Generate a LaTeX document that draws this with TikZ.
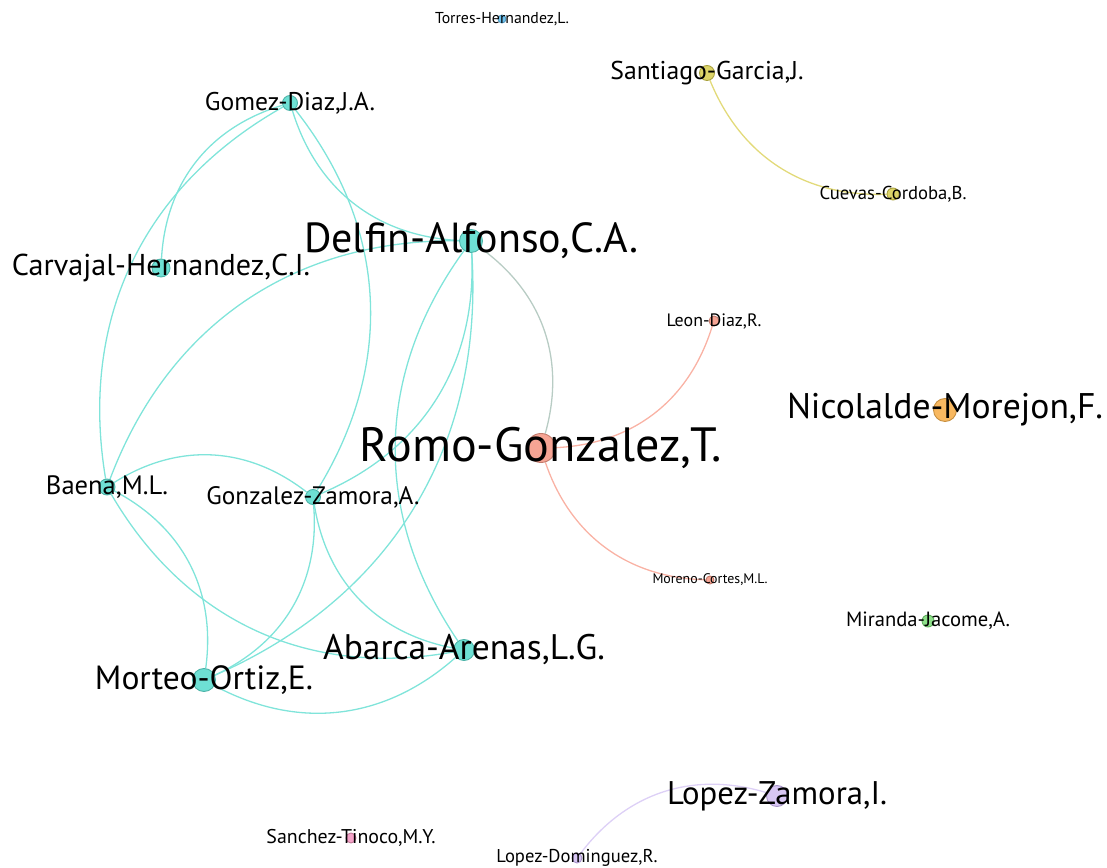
\documentclass[tikz,border=0pt]{standalone}
\usepackage{fontspec}
\setmainfont{PT Sans}
\usetikzlibrary{backgrounds}

\definecolor{tealN}{HTML}{6EE0D4}
\definecolor{tealD}{HTML}{4DB3A8}
\definecolor{tealE}{HTML}{80E4DA}
\definecolor{salN}{HTML}{F6A494}
\definecolor{salD}{HTML}{C27A6C}
\definecolor{salE}{HTML}{F9B2A4}
\definecolor{yelN}{HTML}{DCD468}
\definecolor{yelD}{HTML}{A9A13E}
\definecolor{yelE}{HTML}{E2DA7A}
\definecolor{lavN}{HTML}{D8C6F4}
\definecolor{lavD}{HTML}{A895C8}
\definecolor{lavE}{HTML}{DDD0F6}
\definecolor{oraN}{HTML}{F8B860}
\definecolor{oraD}{HTML}{C68F40}
\definecolor{grnN}{HTML}{8EE08A}
\definecolor{grnD}{HTML}{62B060}
\definecolor{pnkN}{HTML}{F4A2C8}
\definecolor{pnkD}{HTML}{C27898}
\definecolor{bluN}{HTML}{72C4F0}
\definecolor{bluD}{HTML}{4C98C2}
\definecolor{mixE}{HTML}{B8CCC4}

% label scaled to the width it has in the map
\newcommand{\nm}[2]{\resizebox{#1pt}{!}{#2}}

\begin{document}
\begin{tikzpicture}[x=1pt,y=1pt,bend angle=35]
  \tikzstyle{auth} = [circle, inner sep=0pt, line width=0.9pt]
  \tikzstyle{tm} = [auth, fill=tealN, draw=tealD]
  \tikzstyle{edge} = [line width=1.3pt]
  \useasboundingbox (0,0) rectangle (1107,867);

  % authors
  \node[auth, fill=bluN, draw=bluD, minimum size=8, label={center:\nm{134}{Torres-Hernandez,L.}}] (torres) at (502,848) {};
  \node[auth, fill=yelN, draw=yelD, minimum size=15, label={center:\nm{193}{Santiago-Garcia,J.}}] (santiago) at (707,794) {};
  \node[auth, fill=yelN, draw=yelD, minimum size=12, label={center:\nm{147}{Cuevas-Cordoba,B.}}] (cuevas) at (893,673) {};
  \node[tm, minimum size=15, label={center:\nm{170}{Gomez-Diaz,J.A.}}] (gomez) at (290,764) {};
  \node[tm, minimum size=23, label={center:\nm{334}{Delfin-Alfonso,C.A.}}] (delfin) at (471,626) {};
  \node[tm, minimum size=18, label={center:\nm{298}{Carvajal-Hernandez,C.I.}}] (carvajal) at (161,599) {};
  \node[auth, fill=salN, draw=salD, minimum size=10, label={center:\nm{95}{Leon-Diaz,R.}}] (leon) at (714,546) {};
  \node[auth, fill=oraN, draw=oraD, minimum size=23, label={center:\nm{316}{Nicolalde-Morejon,F.}}] (nicolalde) at (945,457) {};
  \node[auth, fill=salN, draw=salD, minimum size=29, label={center:\nm{362}{Romo-Gonzalez,T.}}] (romo) at (541,419) {};
  \node[tm, minimum size=16, label={center:\nm{122}{Baena,M.L.}}] (baena) at (107,380) {};
  \node[tm, minimum size=15, label={center:\nm{213}{Gonzalez-Zamora,A.}}] (gzamora) at (313,370) {};
  \node[auth, fill=salN, draw=salD, minimum size=8, label={center:\nm{115}{Moreno-Cortes,M.L.}}] (moreno) at (710,287) {};
  \node[auth, fill=grnN, draw=grnD, minimum size=12, label={center:\nm{164}{Miranda-Jacome,A.}}] (miranda) at (928,246) {};
  \node[tm, minimum size=21, label={center:\nm{282}{Abarca-Arenas,L.G.}}] (abarca) at (464,217) {};
  \node[tm, minimum size=23, label={center:\nm{218}{Morteo-Ortiz,E.}}] (morteo) at (204,187) {};
  \node[auth, fill=lavN, draw=lavD, minimum size=21, label={center:\nm{220}{Lopez-Zamora,I.}}] (lzamora) at (777,71) {};
  \node[auth, fill=pnkN, draw=pnkD, minimum size=10, label={center:\nm{169}{Sanchez-Tinoco,M.Y.}}] (sanchez) at (351,29) {};
  \node[auth, fill=lavN, draw=lavD, minimum size=10, label={center:\nm{161}{Lopez-Dominguez,R.}}] (ldominguez) at (577,9) {};

  % co-authorship links
  \begin{pgfonlayer}{background}
    \draw[edge, tealE] (gomez) to[bend right] (carvajal);
    \draw[edge, tealE] (gomez) to[bend right] (baena);
    \draw[edge, tealE] (gomez) to[bend right] (delfin);
    \draw[edge, tealE] (gomez) to[bend left] (gzamora);
    \draw[edge, tealE] (baena) to[bend left] (delfin);
    \draw[edge, tealE] (baena) to[bend left] (gzamora);
    \draw[edge, tealE] (baena) to[bend left] (morteo);
    \draw[edge, tealE] (baena) to[bend right] (abarca);
    \draw[edge, tealE] (delfin) to[bend left] (gzamora);
    \draw[edge, tealE] (delfin) to[bend left] (morteo);
    \draw[edge, tealE] (delfin) to[bend right] (abarca);
    \draw[edge, tealE] (gzamora) to[bend left] (morteo);
    \draw[edge, tealE] (gzamora) to[bend right] (abarca);
    \draw[edge, tealE] (morteo) to[bend right] (abarca);
    \draw[edge, mixE] (delfin) to[bend left] (romo);
    \draw[edge, salE] (romo) to[bend right] (leon);
    \draw[edge, salE] (romo) to[bend right] (moreno);
    \draw[edge, yelE] (santiago) to[bend right] (cuevas);
    \draw[edge, lavE] (lzamora) to[bend right] (ldominguez);
  \end{pgfonlayer}
\end{tikzpicture}
\end{document}
